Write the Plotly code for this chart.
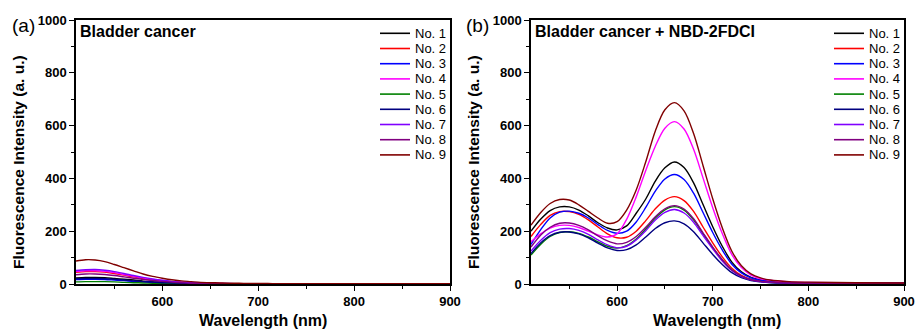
import plotly.graph_objects as go

# ---------------- data ----------------
wavelength = [510, 520, 530, 540, 550, 560, 570, 580, 590, 600,
              610, 620, 630, 640, 650, 660, 670, 680, 690, 700,
              710, 720, 730, 740, 750, 760, 780, 800, 850, 900]

names = ["No. 1", "No. 2", "No. 3", "No. 4", "No. 5", "No. 6", "No. 7", "No. 8", "No. 9"]
colors = ["#000000", "#ff0000", "#0000ff", "#ff00ff", "#008000",
          "#000080", "#8000ff", "#800080", "#800000"]

# Panel (a): Bladder cancer
a1 = [23, 25, 25, 24, 21, 18, 15, 11, 9, 6, 5, 3, 2, 2, 1, 1, 1, 1, 1, 1,
      0.5, 0.5, 0.5, 0.5, 0.5, 0.5, 0.5, 0.5, 0.5, 0.5]
a2 = [44, 47, 47, 45, 40, 34, 27, 21, 16, 12, 8, 6, 4, 3, 2, 2, 1, 1, 1, 1,
      1, 0.5, 0.5, 0.5, 0.5, 0.5, 0.5, 0.5, 0.5, 0.5]
a3 = [17, 18, 18, 17, 15, 13, 10, 8, 6, 5, 3, 2, 2, 1, 1, 1, 1, 0.5, 0.5, 0.5,
      0.5, 0.5, 0.5, 0.5, 0.5, 0.5, 0.5, 0.5, 0.5, 0.5]
a4 = [47, 50, 50, 48, 43, 36, 29, 23, 17, 13, 9, 7, 5, 3, 2, 2, 1, 1, 1, 1,
      1, 0.5, 0.5, 0.5, 0.5, 0.5, 0.5, 0.5, 0.5, 0.5]
a5 = [8, 9, 9, 9, 8, 6, 5, 4, 3, 2, 2, 1, 1, 1, 1, 0.5, 0.5, 0.5, 0.5, 0.5,
      0.5, 0.5, 0.5, 0.5, 0.5, 0.5, 0.5, 0.5, 0.5, 0.5]
a6 = [20, 21, 21, 20, 18, 15, 12, 9, 7, 5, 4, 3, 2, 1, 1, 1, 1, 0.5, 0.5, 0.5,
      0.5, 0.5, 0.5, 0.5, 0.5, 0.5, 0.5, 0.5, 0.5, 0.5]
a7 = [51, 54, 55, 52, 47, 40, 32, 25, 19, 14, 10, 7, 5, 4, 2, 2, 2, 1, 1, 1,
      1, 0.5, 0.5, 0.5, 0.5, 0.5, 0.5, 0.5, 0.5, 0.5]
a8 = [35, 38, 38, 36, 32, 27, 22, 17, 13, 10, 7, 5, 3, 2, 2, 1, 1, 1, 1, 0.5,
      0.5, 0.5, 0.5, 0.5, 0.5, 0.5, 0.5, 0.5, 0.5, 0.5]
a9 = [87, 92, 91, 85, 74, 62, 50, 38, 29, 22, 16, 12, 9, 6, 5, 4, 3, 3, 2, 2,
      2, 1, 1, 1, 1, 1, 1, 1, 1, 1]

# Panel (b): Bladder cancer + NBD-2FDCI
b1 = [200, 245, 278, 292, 292, 280, 258, 232, 212, 205,
      220, 268, 322, 390, 440, 462, 441, 383, 300, 217,
      143, 83, 46, 25, 15, 10, 6, 4, 3, 3]
b2 = [180, 225, 260, 274, 274, 264, 243, 216, 190, 175,
      177, 200, 240, 285, 318, 331, 316, 275, 215, 156,
      103, 60, 33, 18, 11, 7, 4, 3, 2, 2]
b3 = [150, 205, 250, 272, 276, 268, 250, 225, 203, 192,
      200, 235, 290, 352, 398, 415, 396, 344, 270, 195,
      129, 75, 42, 23, 14, 9, 5, 4, 3, 3]
b4 = [160, 190, 212, 222, 222, 214, 200, 186, 178, 190,
      245, 330, 430, 522, 590, 615, 587, 510, 400, 289,
      191, 111, 62, 34, 20, 14, 8, 6, 4, 4]
b5 = [110, 150, 180, 195, 198, 192, 178, 160, 143, 136,
      145, 170, 208, 250, 281, 293, 280, 243, 190, 138,
      91, 53, 29, 16, 10, 6, 4, 3, 2, 2]
b6 = [115, 155, 183, 196, 197, 190, 175, 155, 137, 127,
      130, 148, 178, 210, 232, 239, 228, 198, 155, 112,
      74, 43, 24, 13, 8, 5, 3, 2, 2, 2]
b7 = [125, 165, 195, 208, 210, 203, 188, 167, 148, 137,
      143, 167, 202, 242, 271, 282, 269, 234, 183, 133,
      87, 51, 28, 16, 9, 6, 4, 3, 2, 2]
b8 = [140, 185, 215, 230, 231, 222, 205, 182, 163, 152,
      158, 180, 215, 255, 285, 297, 284, 247, 193, 140,
      92, 53, 30, 16, 10, 7, 4, 3, 2, 2]
b9 = [223, 270, 305, 320, 318, 300, 275, 250, 230, 236,
      280, 356, 463, 580, 660, 687, 656, 570, 447, 323,
      213, 124, 69, 38, 23, 15, 9, 7, 5, 4]

panel_a = [a1, a2, a3, a4, a5, a6, a7, a8, a9]
panel_b = [b1, b2, b3, b4, b5, b6, b7, b8, b9]

x_ticks = [600, 700, 800, 900]
y_ticks = [0, 200, 400, 600, 800, 1000]

# ---------------- layout geometry ----------------
W, H = 917, 332
FONT = "Liberation Sans, Arial, sans-serif"

def px_x(p):
    return p / W

def px_y(p):
    return 1 - p / H

dom_a = [px_x(76), px_x(450)]
dom_b = [px_x(531), px_x(904)]
dom_y = [px_y(284), px_y(20)]

fig = go.Figure()

for name, color, ys in zip(names, colors, panel_a):
    fig.add_trace(go.Scatter(x=wavelength, y=ys, mode="lines", name=name,
                             line=dict(color=color, width=1.4, shape="spline", smoothing=0.9),
                             xaxis="x", yaxis="y", showlegend=False))
for name, color, ys in zip(names, colors, panel_b):
    fig.add_trace(go.Scatter(x=wavelength, y=ys, mode="lines", name=name,
                             line=dict(color=color, width=1.4, shape="spline", smoothing=0.9),
                             xaxis="x2", yaxis="y2", showlegend=False))

tickfont = dict(family=FONT, size=13, color="black", weight="bold")

def main_x(domain, anchor):
    return dict(domain=domain, anchor=anchor, range=[510, 900], tickvals=x_ticks,
                ticks="outside", ticklen=5, tickwidth=1.3, tickcolor="black",
                showline=True, linewidth=1.5, linecolor="black", mirror=True,
                showgrid=False, zeroline=False, tickfont=tickfont, automargin=False,
                minor=dict(tickvals=[550, 650, 750, 850], ticks="outside", ticklen=3,
                           tickwidth=1.1, tickcolor="black"))

def main_y(domain, anchor):
    return dict(domain=domain, anchor=anchor, range=[0, 1000], tickvals=y_ticks,
                ticks="outside", ticklen=5, tickwidth=1.3, tickcolor="black",
                showline=True, linewidth=1.5, linecolor="black", mirror=True,
                showgrid=False, zeroline=False, tickfont=tickfont, automargin=False,
                minor=dict(tickvals=[100, 300, 500, 700, 900], ticks="outside", ticklen=3,
                           tickwidth=1.1, tickcolor="black"))

def over_x(over, anchor):
    return dict(overlaying=over, anchor=anchor, side="top", range=[510, 900],
                tickvals=x_ticks, ticks="inside", ticklen=4, tickwidth=1.1, tickcolor="black",
                showticklabels=False, showline=False, showgrid=False, zeroline=False,
                automargin=False,
                minor=dict(tickvals=[550, 650, 750, 850], ticks="inside", ticklen=3,
                           tickwidth=1.0, tickcolor="black"))

def over_y(over, anchor):
    return dict(overlaying=over, anchor=anchor, side="right", range=[0, 1000],
                tickvals=y_ticks, ticks="inside", ticklen=4, tickwidth=1.1, tickcolor="black",
                showticklabels=False, showline=False, showgrid=False, zeroline=False,
                automargin=False,
                minor=dict(tickvals=[100, 300, 500, 700, 900], ticks="inside", ticklen=3,
                           tickwidth=1.0, tickcolor="black"))

annotations = []
shapes = []

# axis titles, panel labels, panel headings
for dom, panel_label, heading, ytitle_px, label_px in [
        (dom_a, "(a)", "Bladder cancer", 18, 23),
        (dom_b, "(b)", "Bladder cancer + NBD-2FDCI", 473, 478)]:
    annotations.append(dict(text="Wavelength (nm)", xref="paper", yref="paper",
                            x=(dom[0] + dom[1]) / 2, y=px_y(320), showarrow=False,
                            xanchor="center", yanchor="middle",
                            font=dict(family=FONT, size=16, color="black", weight="bold")))
    annotations.append(dict(text="Fluorescence Intensity (a. u.)", xref="paper", yref="paper",
                            x=px_x(ytitle_px), y=px_y(162), showarrow=False, textangle=-90,
                            xanchor="center", yanchor="middle",
                            font=dict(family=FONT, size=15.5, color="black", weight="bold")))
    annotations.append(dict(text=panel_label, xref="paper", yref="paper",
                            x=px_x(label_px), y=px_y(25), showarrow=False,
                            xanchor="center", yanchor="middle",
                            font=dict(family=FONT, size=19, color="black")))
    annotations.append(dict(text=heading, xref="paper", yref="paper",
                            x=dom[0] + px_x(2), y=px_y(32), showarrow=False,
                            xanchor="left", yanchor="middle",
                            font=dict(family=FONT, size=16, color="black", weight="bold")))

# legends (compact, as in the original)
for line_start in (380, 834):
    for i, (name, color) in enumerate(zip(names, colors)):
        yy = px_y(33.3 + i * 15.2)
        shapes.append(dict(type="line", xref="paper", yref="paper",
                           x0=px_x(line_start), x1=px_x(line_start + 30), y0=yy, y1=yy,
                           line=dict(color=color, width=1.6)))
        annotations.append(dict(text=name, xref="paper", yref="paper",
                                x=px_x(line_start + 33), y=yy, showarrow=False,
                                xanchor="left", yanchor="middle",
                                font=dict(family=FONT, size=13, color="black")))

fig.update_layout(
    width=W, height=H,
    margin=dict(l=0, r=0, t=0, b=0, autoexpand=False),
    paper_bgcolor="white", plot_bgcolor="white",
    xaxis=main_x(dom_a, "y"), yaxis=main_y(dom_y, "x"),
    xaxis2=main_x(dom_b, "y2"), yaxis2=main_y(dom_y, "x2"),
    xaxis3=over_x("x", "y"), yaxis3=over_y("y", "x"),
    xaxis4=over_x("x2", "y2"), yaxis4=over_y("y2", "x2"),
    annotations=annotations, shapes=shapes,
    showlegend=False,
)

fig.write_html("out.html")
